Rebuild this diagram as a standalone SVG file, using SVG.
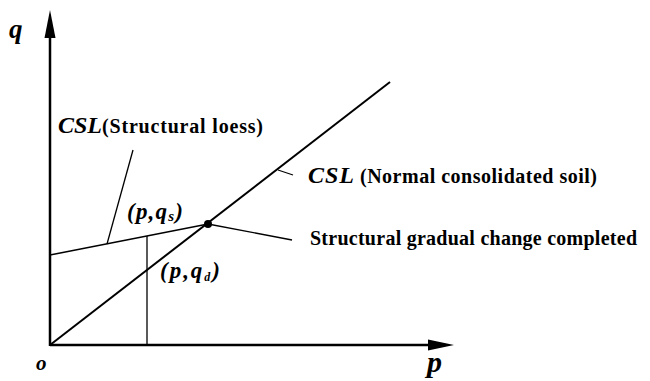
<svg xmlns="http://www.w3.org/2000/svg" width="650" height="381" viewBox="0 0 650 381">
<style>
.ax{stroke:#000;stroke-width:2.5;fill:none}
.ln{stroke:#000;stroke-width:2;fill:none}
.th{stroke:#000;stroke-width:1.3;fill:none}
text{font-family:"Liberation Serif","Times New Roman",serif;font-weight:bold;fill:#000}
.it{font-style:italic}
</style>
<g id="axes">
<line class="ax" x1="50" y1="346" x2="50" y2="30"/>
<path d="M50,10 L44.5,38 L55.5,38 Z" fill="#000"/>
<line class="ax" x1="50" y1="345" x2="430" y2="345"/>
<path d="M454,345 L428,339.5 L428,350.5 Z" fill="#000"/>
</g>
<g id="connectors">
<line class="ln" x1="50" y1="345" x2="390" y2="82"/>
<line class="th" x1="50" y1="255" x2="208" y2="224"/>
<line class="th" x1="147" y1="236" x2="147" y2="345"/>
<line class="th" x1="133" y1="150" x2="107" y2="244"/>
<line class="th" x1="278" y1="170" x2="293" y2="175"/>
<line class="th" x1="208" y1="224" x2="292" y2="240"/>
</g>
<g id="point"><circle cx="208" cy="224" r="4" fill="#000"/></g>
<g id="labels">
<text class="it" x="9" y="38" font-size="27">q</text>
<text class="it" x="36" y="370" font-size="21">o</text>
<text class="it" x="427" y="372" font-size="30">p</text>
<text class="it" x="58" y="133" font-size="24" textLength="44">CSL</text>
<text x="102" y="133" font-size="20" textLength="161">(Structural loess)</text>
<text class="it" x="308" y="183" font-size="24" textLength="46">CSL</text>
<text x="360" y="183" font-size="20" textLength="237">(Normal consolidated soil)</text>
<text x="310" y="245" font-size="20" textLength="327">Structural gradual change completed</text>
<text class="it" x="127" y="219" font-size="23" textLength="56">(p,q<tspan font-size="15" dy="2">s</tspan><tspan dy="-2">)</tspan></text>
<text class="it" x="160" y="278" font-size="23" textLength="60">(p,q<tspan font-size="12" dy="3">d</tspan><tspan dy="-3">)</tspan></text>
</g>
</svg>
